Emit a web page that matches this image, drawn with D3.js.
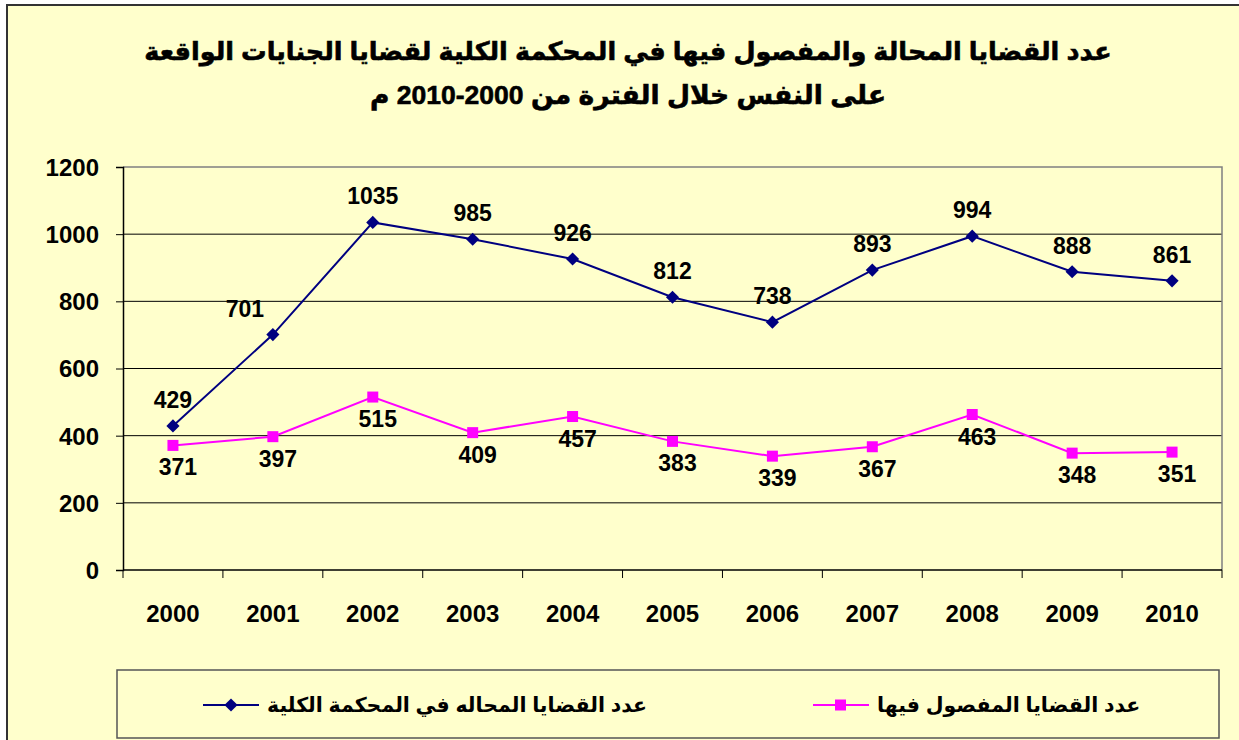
<!DOCTYPE html>
<html>
<head>
<meta charset="utf-8">
<script src="https://cdn.jsdelivr.net/npm/d3@7"></script>
<style>
  body { margin: 0; background: #fff; }
  text { font-family: Arial, "Liberation Sans", "DejaVu Sans", sans-serif; }
</style>
</head>
<body>
<div id="chart"></div>
<script>
// Data
var years = ["2000","2001","2002","2003","2004","2005","2006","2007","2008","2009","2010"];
var referred = [429, 701, 1035, 985, 926, 812, 738, 893, 994, 888, 861];
var decided = [371, 397, 515, 409, 457, 383, 339, 367, 463, 348, 351];
var yTicks = [0, 200, 400, 600, 800, 1000, 1200];
var seriesNames = ["عدد القضايا المحاله في المحكمة الكلية", "عدد القضايا المفصول فيها"];
var titleLines = ["عدد القضايا المحالة والمفصول فيها في المحكمة الكلية لقضايا الجنايات الواقعة",
                  "على النفس خلال الفترة من 2000-2010 م"];

var W = 1239, H = 740;
var margin = {top: 167, right: 17, bottom: 170, left: 123};
var width = W - margin.left - margin.right,
    height = H - margin.top - margin.bottom;

var svg = d3.select("#chart").append("svg")
  .attr("width", W)
  .attr("height", H);

// Chart background and border
svg.append("rect")
  .attr("x", 7).attr("y", 5)
  .attr("width", W + 10).attr("height", H + 10)
  .attr("fill", "#FFFFCC")
  .attr("stroke", "#333")
  .attr("stroke-width", 2);

// Title
svg.selectAll(".title")
  .data(titleLines)
  .enter().append("text")
  .attr("class", "title")
  .attr("x", 628)
  .attr("y", function(d, i){ return 60 + i * 44; })
  .attr("text-anchor", "middle")
  .attr("direction", "rtl")
  .style("font-size", function(d, i){ return i === 0 ? "25.5px" : "26.5px"; })
  .style("font-weight", "bold")
  .style("stroke", "#000")
  .style("stroke-width", 0.6)
  .text(function(d){ return d; });

var g = svg.append("g")
  .attr("transform", "translate(" + margin.left + "," + margin.top + ")");

// Scales
var x = d3.scaleBand().domain(years).range([0, width]);
var y = d3.scaleLinear().domain([0, 1200]).range([height, 0]);

// Gridlines
g.selectAll(".grid")
  .data(yTicks.slice(1, -1))
  .enter().append("line")
  .attr("x1", 0).attr("x2", width)
  .attr("y1", function(d){ return y(d); })
  .attr("y2", function(d){ return y(d); })
  .attr("stroke", "#000")
  .attr("stroke-width", 1);

// Plot area border (top/right)
g.append("path")
  .attr("d", "M0," + y(1200) + "H" + width + "V" + height)
  .attr("fill", "none")
  .attr("stroke", "#808080")
  .attr("stroke-width", 1.5);

// Y axis
var yAxis = g.append("g")
  .call(d3.axisLeft(y).tickValues(yTicks).tickFormat(d3.format("d")).tickSize(7).tickPadding(17));
yAxis.select(".domain").attr("stroke", "#000").attr("stroke-width", 1.5);
yAxis.selectAll("text")
  .style("font-size", "24px")
  .style("font-weight", "bold")
  .attr("dy", "0.35em");

// X axis with ticks at band boundaries
var xAxis = g.append("g")
  .attr("transform", "translate(0," + height + ")");
xAxis.append("line")
  .attr("x1", 0).attr("x2", width)
  .attr("stroke", "#000").attr("stroke-width", 1.5);
xAxis.selectAll(".xtick")
  .data(years.concat(["end"]))
  .enter().append("line")
  .attr("x1", function(d, i){ return i * x.step(); })
  .attr("x2", function(d, i){ return i * x.step(); })
  .attr("y1", 0).attr("y2", 8)
  .attr("stroke", "#000");
xAxis.selectAll(".xlabel")
  .data(years)
  .enter().append("text")
  .attr("x", function(d){ return x(d) + x.bandwidth() / 2; })
  .attr("y", 52)
  .attr("text-anchor", "middle")
  .style("font-size", "24px")
  .style("font-weight", "bold")
  .text(function(d){ return d; });

var cx = function(d, i){ return x(years[i]) + x.bandwidth() / 2; };

var line = d3.line()
  .x(function(d, i){ return cx(d, i); })
  .y(function(d){ return y(d); });

// Series 1: referred cases
g.append("path")
  .datum(referred)
  .attr("fill", "none")
  .attr("stroke", "#000080")
  .attr("stroke-width", 2)
  .attr("d", line);

g.selectAll(".diamond")
  .data(referred)
  .enter().append("path")
  .attr("d", d3.symbol().type(d3.symbolDiamond2).size(110))
  .attr("transform", function(d, i){ return "translate(" + cx(d, i) + "," + y(d) + ")"; })
  .attr("fill", "#000080");

// label shift for the 2001 point, as in the original
var labelShift1 = {1: -28};

g.selectAll(".lab1")
  .data(referred)
  .enter().append("text")
  .attr("x", function(d, i){ return cx(d, i) + (labelShift1[i] || 0); })
  .attr("y", function(d){ return y(d) - 18; })
  .attr("text-anchor", "middle")
  .style("font-size", "23px")
  .style("font-weight", "bold")
  .text(function(d){ return d; });

// Series 2: decided cases
g.append("path")
  .datum(decided)
  .attr("fill", "none")
  .attr("stroke", "#FF00FF")
  .attr("stroke-width", 2)
  .attr("d", line);

g.selectAll(".square")
  .data(decided)
  .enter().append("rect")
  .attr("x", function(d, i){ return cx(d, i) - 5.5; })
  .attr("y", function(d){ return y(d) - 5.5; })
  .attr("width", 11).attr("height", 11)
  .attr("fill", "#FF00FF");

g.selectAll(".lab2")
  .data(decided)
  .enter().append("text")
  .attr("x", function(d, i){ return cx(d, i) + 5; })
  .attr("y", function(d){ return y(d) + 30; })
  .attr("text-anchor", "middle")
  .style("font-size", "23px")
  .style("font-weight", "bold")
  .text(function(d){ return d; });

// Legend
var legend = svg.append("g");
legend.append("rect")
  .attr("x", 117).attr("y", 670)
  .attr("width", 1102).attr("height", 68)
  .attr("fill", "#FFFFCC")
  .attr("stroke", "#555")
  .attr("stroke-width", 1.5);

var legendItems = [
  {name: seriesNames[0], color: "#000080", x: 203, shape: "diamond"},
  {name: seriesNames[1], color: "#FF00FF", x: 813, shape: "square"}
];

legendItems.forEach(function(it){
  legend.append("line")
    .attr("x1", it.x).attr("x2", it.x + 56)
    .attr("y1", 705).attr("y2", 705)
    .attr("stroke", it.color).attr("stroke-width", 2);
  if (it.shape === "diamond") {
    legend.append("path")
      .attr("d", d3.symbol().type(d3.symbolDiamond2).size(110))
      .attr("transform", "translate(" + (it.x + 28) + ",705)")
      .attr("fill", it.color);
  } else {
    legend.append("rect")
      .attr("x", it.x + 22).attr("y", 699.5)
      .attr("width", 11).attr("height", 11)
      .attr("fill", it.color);
  }
  legend.append("text")
    .attr("x", it.x + 64)
    .attr("y", 712)
    .attr("text-anchor", "end")
    .attr("direction", "rtl")
    .style("font-size", "20.5px")
    .style("font-weight", "bold")
    .text(it.name);
});
</script>
</body>
</html>
